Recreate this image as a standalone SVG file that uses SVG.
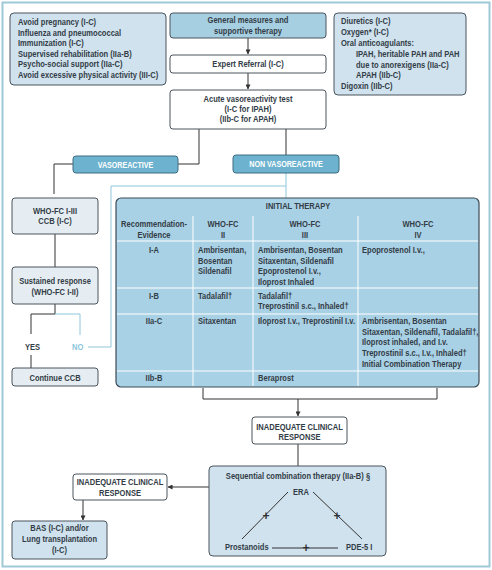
<svg xmlns="http://www.w3.org/2000/svg" width="492" height="570" viewBox="0 0 492 570">
<defs>
<marker id="ah" viewBox="0 0 6 6" refX="5.5" refY="3" markerWidth="5" markerHeight="5" orient="auto" markerUnits="userSpaceOnUse">
<path d="M0,0 L6,3 L0,6 z" fill="#333"/>
</marker>
<style>
text{font-family:"Liberation Sans",Arial,sans-serif;font-weight:bold;font-size:9px;fill:#333d47}
.c{text-anchor:middle}
.w{fill:#ffffff;font-size:8.5px}
.p{font-size:12px;fill:#333}
.box{stroke:#4a545c;stroke-width:1}
.lb{fill:#cfe2ee}
.mb{fill:#a6cfe2}
.wh{fill:#ffffff}
.gr{fill:#e6edf2}
.btn{fill:#6db3cf;stroke:#3f6d82;stroke-width:1}
.ln{fill:none;stroke:#333;stroke-width:1}
.lt{fill:none;stroke:#8cc6dc;stroke-width:1}
.grid{stroke:#ffffff;stroke-width:1}
</style>
</defs>
<rect x="2.5" y="2.5" width="487" height="564" fill="#ffffff" stroke="#9fc9d6" stroke-width="2"/>

<g id="connectors">
<path class="ln" d="M248,38 V54" marker-end="url(#ah)"/>
<path class="ln" d="M248,73 V89" marker-end="url(#ah)"/>
<path class="ln" d="M199,129 V164 H178"/>
<path class="ln" d="M73,164 H54 V194"/>
<path class="ln" d="M286,129 V155"/>
<path class="lt" d="M286,173 V198"/>
<path class="ln" d="M55,234 V267"/>
<path class="ln" d="M55,304 V314 H31 V334"/>
<path class="lt" d="M55,314 H80 V335"/>
<path class="lt" d="M88,347 H111 V186 H286"/>
<path class="ln" d="M31,355 V368"/>
<path class="ln" d="M203,388 V399 H437 V388"/>
<path class="ln" d="M298,399 V416" marker-end="url(#ah)"/>
<path class="ln" d="M298,444 V466"/>
<path class="ln" d="M209,487 H168" marker-end="url(#ah)"/>
<path class="ln" d="M83,500 V520" marker-end="url(#ah)"/>
</g>

<g id="general-left">
<rect class="box lb" x="10" y="13" width="156" height="72" rx="4"/>
<text transform="translate(18,25) scale(.84,1)">Avoid pregnancy (I-C)</text>
<text transform="translate(18,35.5) scale(.84,1)">Influenza and pneumococcal</text>
<text transform="translate(18,46) scale(.84,1)">Immunization (I-C)</text>
<text transform="translate(18,56.5) scale(.84,1)">Supervised rehabilitation (IIa-B)</text>
<text transform="translate(18,67) scale(.84,1)">Psycho-social support (IIa-C)</text>
<text transform="translate(18,77.5) scale(.84,1)">Avoid excessive physical activity (III-C)</text>
</g>

<g id="general">
<rect class="box mb" x="170" y="13" width="156" height="25" rx="3"/>
<text class="c" transform="translate(248,23) scale(.84,1)">General measures and</text>
<text class="c" transform="translate(248,33.5) scale(.84,1)">supportive therapy</text>
</g>

<g id="general-right">
<rect class="box lb" x="334" y="13" width="132" height="82" rx="4"/>
<text transform="translate(341,24) scale(.84,1)">Diuretics (I-C)</text>
<text transform="translate(341,35) scale(.84,1)">Oxygen* (I-C)</text>
<text transform="translate(341,46) scale(.84,1)">Oral anticoagulants:</text>
<text transform="translate(356,57) scale(.84,1)">IPAH, heritable PAH and PAH</text>
<text transform="translate(356,67.5) scale(.84,1)">due to anorexigens (IIa-C)</text>
<text transform="translate(356,78) scale(.84,1)">APAH (IIb-C)</text>
<text transform="translate(341,89) scale(.84,1)">Digoxin (IIb-C)</text>
</g>

<g id="referral">
<rect class="box wh" x="170" y="55" width="156" height="18" rx="3"/>
<text class="c" transform="translate(248,67) scale(.84,1)">Expert Referral (I-C)</text>
</g>

<g id="acute">
<rect class="box wh" x="170" y="90" width="156" height="39" rx="3"/>
<text class="c" transform="translate(248,102) scale(.84,1)">Acute vasoreactivity test</text>
<text class="c" transform="translate(248,112) scale(.84,1)">(I-C for IPAH)</text>
<text class="c" transform="translate(248,122) scale(.84,1)">(IIb-C for APAH)</text>
</g>

<g id="vasoreactive">
<rect class="btn" x="73" y="156" width="105" height="17" rx="3"/>
<text class="c w" transform="translate(125.5,167.5) scale(.84,1)">VASOREACTIVE</text>
</g>

<g id="non-vasoreactive">
<rect class="btn" x="233" y="155" width="106" height="18" rx="3"/>
<text class="c w" transform="translate(286,167) scale(.84,1)">NON VASOREACTIVE</text>
</g>

<g id="who-ccb">
<rect class="box gr" x="12" y="198" width="86" height="36" rx="3"/>
<text class="c" transform="translate(55,214) scale(.84,1)">WHO-FC I-III</text>
<text class="c" transform="translate(55,224) scale(.84,1)">CCB (I-C)</text>
</g>

<g id="sustained">
<rect class="box gr" x="12" y="267" width="86" height="37" rx="3"/>
<text class="c" transform="translate(55,284) scale(.84,1)">Sustained response</text>
<text class="c" transform="translate(55,295) scale(.84,1)">(WHO-FC I-II)</text>
</g>

<g id="yes"><text transform="translate(25,350) scale(.84,1)">YES</text></g>
<g id="no"><text transform="translate(72,350) scale(.84,1)" style="fill:#8cc6dc">NO</text></g>

<g id="continue">
<rect class="box gr" x="12" y="368" width="86" height="18" rx="3"/>
<text class="c" transform="translate(55,380.5) scale(.84,1)">Continue CCB</text>
</g>

<g id="initial-therapy">
<rect x="116" y="198" width="363" height="189" rx="5" fill="#a9d1e5" stroke="#3d4a55" stroke-width="1.2"/>
<line class="grid" x1="193" y1="216" x2="193" y2="386"/>
<line class="grid" x1="253" y1="216" x2="253" y2="386"/>
<line class="grid" x1="358" y1="216" x2="358" y2="386"/>
<line class="grid" x1="117" y1="241" x2="478" y2="241"/>
<line class="grid" x1="117" y1="288" x2="478" y2="288"/>
<line class="grid" x1="117" y1="314" x2="478" y2="314"/>
<line class="grid" x1="117" y1="371" x2="478" y2="371"/>
<text class="c" transform="translate(298,209) scale(.84,1)">INITIAL THERAPY</text>
<text class="c" transform="translate(154,227) scale(.84,1)">Recommendation-</text>
<text class="c" transform="translate(154,238) scale(.84,1)">Evidence</text>
<text class="c" transform="translate(223,227) scale(.84,1)">WHO-FC</text>
<text class="c" transform="translate(223,238) scale(.84,1)">II</text>
<text class="c" transform="translate(305,227) scale(.84,1)">WHO-FC</text>
<text class="c" transform="translate(305,238) scale(.84,1)">III</text>
<text class="c" transform="translate(418,227) scale(.84,1)">WHO-FC</text>
<text class="c" transform="translate(418,238) scale(.84,1)">IV</text>
<text class="c" transform="translate(154,253) scale(.84,1)">I-A</text>
<text transform="translate(198,253) scale(.84,1)">Ambrisentan,</text>
<text transform="translate(198,264) scale(.84,1)">Bosentan</text>
<text transform="translate(198,274) scale(.84,1)">Sildenafil</text>
<text transform="translate(258,253) scale(.84,1)">Ambrisentan, Bosentan</text>
<text transform="translate(258,264) scale(.84,1)">Sitaxentan, Sildenafil</text>
<text transform="translate(258,274) scale(.84,1)">Epoprostenol I.v.,</text>
<text transform="translate(258,285) scale(.84,1)">Iloprost Inhaled</text>
<text transform="translate(362,253) scale(.84,1)">Epoprostenol I.v.,</text>
<text class="c" transform="translate(154,299) scale(.84,1)">I-B</text>
<text transform="translate(198,299) scale(.84,1)">Tadalafil†</text>
<text transform="translate(258,299) scale(.84,1)">Tadalafil†</text>
<text transform="translate(258,309) scale(.84,1)">Treprostinil s.c., Inhaled†</text>
<text class="c" transform="translate(154,324) scale(.84,1)">IIa-C</text>
<text transform="translate(198,324) scale(.84,1)">Sitaxentan</text>
<text transform="translate(258,324) scale(.84,1)">Iloprost I.v., Treprostinil I.v.</text>
<text transform="translate(362,324) scale(.84,1)">Ambrisentan, Bosentan</text>
<text transform="translate(362,335) scale(.84,1)">Sitaxentan, Sildenafil, Tadalafil†,</text>
<text transform="translate(362,345) scale(.84,1)">Iloprost inhaled, and I.v.</text>
<text transform="translate(362,356) scale(.84,1)">Treprostinil s.c., I.v., Inhaled†</text>
<text transform="translate(362,366.5) scale(.84,1)">Initial Combination Therapy</text>
<text class="c" transform="translate(154,381) scale(.84,1)">IIb-B</text>
<text transform="translate(258,381) scale(.84,1)">Beraprost</text>
</g>

<g id="inadequate-1">
<rect class="box wh" x="252" y="417" width="95" height="27" rx="3"/>
<text class="c" transform="translate(299.5,430) scale(.84,1)">INADEQUATE CLINICAL</text>
<text class="c" transform="translate(299.5,440) scale(.84,1)">RESPONSE</text>
</g>

<g id="sequential">
<rect class="box lb" x="209" y="466" width="177" height="90" rx="4"/>
<text class="c" transform="translate(298,479) scale(.84,1)">Sequential combination therapy (IIa-B) §</text>
<text class="c" transform="translate(301,495) scale(.84,1)">ERA</text>
<text transform="translate(225,550) scale(.84,1)">Prostanoids</text>
<text transform="translate(346,550) scale(.84,1)">PDE-5 I</text>
<path class="ln" d="M288,492 L242,539 M313,492 L362,539 M272,548 H338"/>
<text class="c p" x="266" y="519.5">+</text>
<text class="c p" x="337" y="519.5">+</text>
<text class="c p" x="306" y="552">+</text>
</g>

<g id="inadequate-2">
<rect class="box wh" x="73" y="474" width="94" height="26" rx="3"/>
<text class="c" transform="translate(120,485) scale(.84,1)">INADEQUATE CLINICAL</text>
<text class="c" transform="translate(120,496) scale(.84,1)">RESPONSE</text>
</g>

<g id="bas">
<rect class="box lb" x="12" y="521" width="95" height="38" rx="3"/>
<text class="c" transform="translate(59.5,531) scale(.84,1)">BAS (I-C) and/or</text>
<text class="c" transform="translate(59.5,542) scale(.84,1)">Lung transplantation</text>
<text class="c" transform="translate(59.5,553) scale(.84,1)">(I-C)</text>
</g>
</svg>
